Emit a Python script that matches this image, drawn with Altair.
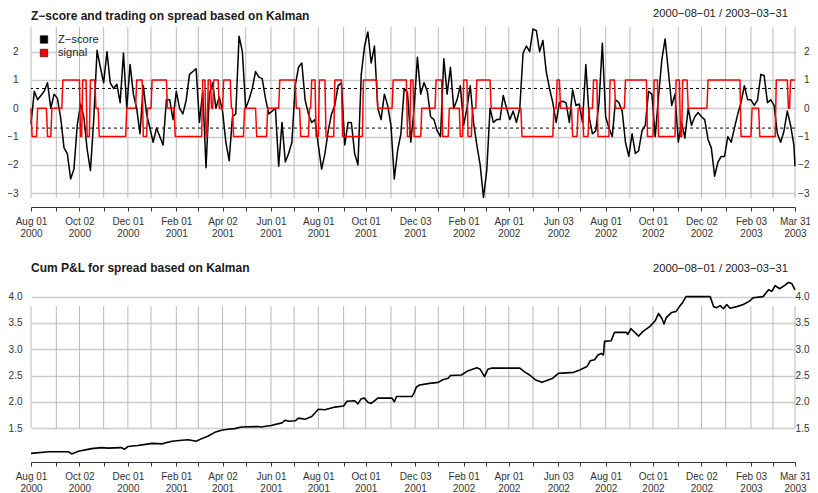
import altair as alt
import pandas as pd

FONT = "Liberation Sans"

# ---------------- calendar (trading-day index on x) ----------------
dates = pd.bdate_range("2000-08-01", "2003-03-31")
LAST = len(dates) - 1

tick_days = [i for i in range(len(dates)) if i == 0 or dates[i].month != dates[i - 1].month] + [LAST]
tick_labels = []
for i in tick_days:
    d = dates[i]
    if i == LAST or d.month % 2 == 0:
        tick_labels.append([d.strftime("%b %d"), d.strftime("%Y")])
    else:
        tick_labels.append("")

# ---------------- data ----------------
title_top = "Z\u2212score and trading on spread based on Kalman"
title_bot = "Cum P&L for spread based on Kalman"
range_text = "2000\u221208\u221201 / 2003\u221203\u221231"
series_names = ["Z\u2212score", "signal"]
series_colors = ["#000000", "#ff0000"]
thresholds = [0.7, -0.7]

# Z-score, one reading every 3 trading days, plus the last day
z_vals = [
    -0.55, 0.6, 0.3, 0.45, 0.6, 0.9, 0.0, 0.5, 0.35, -0.35,
    -1.4, -1.6, -2.5, -2.15, -0.6, 0.15, -0.3, -1.45, -2.2, -0.4,
    2.05, 1.45, 0.9, 2.0, 0.9, 0.7, 0.85, 0.2, 1.95, 0.0,
    1.55, 0.5, 0.0, -0.9, 0.8, -0.2, -0.7, -1.2, -0.7, -1.0,
    -1.3, 0.3, 0.3, -0.4, 0.6, 0.0, -0.2, 0.3, 1.2, 1.3,
    1.4, -0.5, 0.6, -2.1, 0.5, 0.9, 0.0, 0.4, -0.1, -1.2,
    -1.85, -0.3, -0.2, 2.55, 2.0, 0.0, 0.3, 0.7, 1.3, 1.1,
    1.05, 0.35, -0.2, -0.1, 0.0, -2.05, -0.5, -1.9, -1.6, -1.2,
    0.8, 1.45, 1.6, 0.3, -0.2, -0.5, -0.4, -1.3, -2.15, -1.6,
    -0.8, -0.2, 0.1, 0.8, 0.9, -1.3, -0.5, -0.5, -1.6, -2.0,
    1.2, 2.2, 2.7, 1.6, 2.2, 0.0, -0.4, 0.5, 0.1, -0.6,
    -2.5, -1.5, -0.9, 0.7, 0.55, -1.2, 0.0, 1.8, 0.5, 0.9,
    0.6, -0.3, -0.4, -0.8, -1.0, 1.75, 0.5, 1.45, 0.0, 0.3,
    0.8, -0.6, 0.0, 0.8, -0.5, -1.3, -2.0, -3.15, -2.2, 0.0,
    -0.5, -0.4, -0.4, 0.45, 0.0, -0.4, -0.1, -0.5, 0.0, 1.95,
    2.2, 2.0, 2.8, 2.75, 2.0, 2.4, 1.3, 0.7, 0.2, -0.5,
    0.2, 0.25, 0.2, -0.5, 0.65, 0.1, 0.15, -0.5, 1.55, -0.3,
    -0.9, -0.8, 0.2, 2.3, -0.3, -0.7, -1.0, 0.3, 0.2, -0.1,
    -1.2, -1.7, -0.9, -1.6, -1.5, -0.8, -0.6, 0.6, 0.5, -1.0,
    0.4, 1.7, 2.45, 1.3, 0.1, 0.5, -1.2, -0.5, -1.05, 0.0,
    -0.6, -0.3, -0.15, -0.3, -0.4, -1.1, -1.4, -2.4, -1.9, -1.7,
    -1.7, -1.0, -1.2, -0.7, -0.2, 0.2, 0.8, 0.3, 0.3, 0.1,
    0.3, 1.2, 1.15, 0.2, 0.3, 0.1, -0.9, -1.2, -0.8, -0.1,
    -0.6, -1.3, -2.05,
]
z_days = list(range(0, LAST, 3)) + [LAST]

# trading signal: (first trading day of the run, level)
sig_runs = [
    (0, 0), (1, -1), (6, 0), (15, -1), (19, 0), (29, 1), (45, -1), (47, 1), (51, -1), (54, 1),
    (59, 0), (62, -1), (87, 0), (96, 1), (102, -1), (106, 0), (110, 1), (124, 0), (131, -1), (156, 1),
    (159, -1), (161, 1), (164, 0), (166, 1), (171, 0), (175, 1), (182, 0), (184, -1), (194, 0), (205, -1),
    (215, 0), (226, 1), (241, 0), (245, -1), (253, 0), (255, 1), (259, -1), (262, 1), (268, -1), (276, 1),
    (283, -1), (302, 1), (315, 0), (329, 1), (342, -1), (345, 1), (348, -1), (355, 0), (368, 1), (374, -1),
    (380, 0), (390, -1), (393, 1), (397, -1), (401, 0), (405, 1), (418, 0), (446, -1), (475, 0), (478, 1),
    (481, 0), (492, -1), (497, 0), (502, -1), (507, 0), (511, 1), (515, -1), (526, 1), (531, 0), (540, 1),
    (560, -1), (566, 1), (570, -1), (586, 1), (590, -1), (592, 1), (597, 0), (615, 1), (645, -1), (655, 0),
    (662, -1), (677, 1), (688, 0), (690, 1),
]

# cumulative P&L readings (trading day, value)
pnl_days = [
    0, 16, 34, 37, 43, 55, 64, 70, 82, 85, 88, 97, 107, 110, 119, 122, 128, 137, 143, 150,
    155, 161, 167, 173, 179, 185, 191, 206, 209, 218, 228, 231, 234, 240, 243, 249, 255, 261, 267, 276,
    284, 287, 294, 297, 300, 303, 306, 309, 312, 315, 328, 330, 332, 346, 348, 350, 353, 362, 370, 374,
    379, 381, 391, 396, 405, 408, 412, 415, 418, 444, 449, 453, 458, 464, 468, 474, 479, 493, 499, 505,
    508, 512, 515, 518, 520, 521, 527, 530, 541, 542, 545, 552, 556, 562, 567, 570, 573, 575, 577, 582,
    586, 589, 592, 595, 617, 620, 623, 626, 629, 632, 635, 641, 647, 653, 656, 665, 670, 673, 676, 680,
    685, 688, 691, 694,
]
pnl_vals = [
    1.02, 1.05, 1.05, 1.01, 1.06, 1.11, 1.13, 1.12, 1.13, 1.10, 1.15, 1.17, 1.20, 1.21, 1.20, 1.22, 1.25, 1.27, 1.28, 1.25,
    1.30, 1.35, 1.42, 1.46, 1.48, 1.49, 1.52, 1.53, 1.52, 1.55, 1.60, 1.65, 1.63, 1.64, 1.69, 1.67, 1.72, 1.86, 1.85, 1.90,
    1.92, 2.01, 2.02, 1.96, 2.06, 2.07, 1.99, 1.97, 2.02, 2.07, 2.07, 2.00, 2.10, 2.10, 2.17, 2.28, 2.32, 2.35, 2.37, 2.42,
    2.45, 2.50, 2.51, 2.58, 2.65, 2.62, 2.48, 2.62, 2.64, 2.64, 2.56, 2.51, 2.42, 2.37, 2.40, 2.45, 2.54, 2.56, 2.61, 2.67,
    2.78, 2.80, 2.89, 2.92, 2.89, 3.15, 3.16, 3.32, 3.32, 3.28, 3.39, 3.25, 3.34, 3.43, 3.54, 3.68, 3.59, 3.48, 3.60, 3.70,
    3.72, 3.81, 3.89, 4.00, 4.00, 3.81, 3.79, 3.83, 3.77, 3.85, 3.78, 3.81, 3.85, 3.92, 3.98, 4.00, 4.13, 4.10, 4.21, 4.15,
    4.22, 4.27, 4.25, 4.13,
]

top_ticks = [-3, -2, -1, 0, 1, 2]
bot_ticks = [1.5, 2.0, 2.5, 3.0, 3.5, 4.0]

# ---------------- tables ----------------
sig_days, sig_vals = [], []
for k, (start, level) in enumerate(sig_runs):
    end = sig_runs[k + 1][0] - 1 if k + 1 < len(sig_runs) else LAST
    sig_days += [start, end]
    sig_vals += [level, level]

lines_df = pd.concat([
    pd.DataFrame({"day": z_days, "v": z_vals, "s": series_names[0], "o": 0}),
    pd.DataFrame({"day": sig_days, "v": sig_vals, "s": series_names[1], "o": 1}),
])
pnl_df = pd.DataFrame({"day": pnl_days, "v": pnl_vals})
ticks_df = pd.DataFrame({"day": tick_days})
thr_df = pd.DataFrame({"y": thresholds})
legend_df = pd.DataFrame({"s": series_names})

# ---------------- geometry of the two panels inside one plot area ----------------
W, H = 764, 429
TOP_DOM = [-12.29, 2.873]      # top panel occupies the upper 171 px
BOT_DOM = [0.97, 9.126]        # bottom panel occupies the lower 174 px


def xs():
    return alt.Scale(domain=[0, LAST], nice=False, zero=False)


lab_js = "[" + ",".join(("['%s','%s']" % tuple(l)) if l else "''" for l in tick_labels) + "]"
day_js = "[" + ",".join(str(d) for d in tick_days) + "]"
label_expr = f"{lab_js}[indexof({day_js}, datum.value)]"


def x_axis(offset):
    return alt.Axis(values=tick_days, labelExpr=label_expr, offset=offset, orient="bottom",
                    domainColor="#333333", domainWidth=1, tickColor="#333333", tickSize=4, tickWidth=1,
                    labelFont=FONT, labelFontSize=10, labelColor="#333333", labelPadding=5,
                    labelLineHeight=12, labelOverlap=False, labelFlush=False, labelBound=False,
                    grid=False, title=None)


def y_axis(values, orient, pad, align, grid, fmt):
    return alt.Axis(values=values, orient=orient, domain=False, ticks=False, tickSize=0,
                    labelPadding=pad, labelAlign=align, grid=grid, gridColor="#cccccc", gridWidth=1.3,
                    labelFont=FONT, labelFontSize=10, labelColor="#333333", format=fmt, title=None)


GRID_V = "#b9b9b9"

# top panel
top_vgrid = alt.Chart(ticks_df).mark_rule(color=GRID_V, strokeWidth=1).encode(
    x=alt.X("day:Q", scale=xs(), axis=None),
    y=alt.YDatum(2.873, scale=alt.Scale(domain=TOP_DOM, nice=False, zero=False),
                 axis=y_axis(top_ticks, "right", 14, "right", False, "d")),
    y2=alt.Y2Datum(-3.17),
)
top_thr = alt.Chart(thr_df).mark_rule(color="#000000", strokeWidth=1, strokeDash=[3, 3]).encode(
    y=alt.Y("y:Q", scale=alt.Scale(domain=TOP_DOM, nice=False, zero=False), axis=None),
)
top_lines = alt.Chart(lines_df).mark_line(strokeWidth=1.5, strokeJoin="round").encode(
    x=alt.X("day:Q", scale=xs(), axis=x_axis(-249)),
    y=alt.Y("v:Q", scale=alt.Scale(domain=TOP_DOM, nice=False, zero=False),
            axis=y_axis(top_ticks, "left", 13, "right", True, "d")),
    color=alt.Color("s:N", scale=alt.Scale(domain=series_names, range=series_colors), legend=None),
    order="o:Q",
    detail="s:N",
)

# legend (drawn as marks: key squares and their labels)
key_y = alt.Scale(domain=series_names, range=[12.5, 26], padding=0)
legend_keys = alt.Chart(legend_df).mark_square(size=56, stroke="#000000", strokeWidth=0.6, opacity=1).encode(
    x=alt.value(13),
    y=alt.Y("s:N", scale=key_y, axis=None),
    fill=alt.Fill("s:N", scale=alt.Scale(domain=series_names, range=series_colors), legend=None),
)
legend_text = alt.Chart(legend_df).mark_text(
    align="left", baseline="middle", font=FONT, fontSize=11.2, color="#222222",
).encode(
    x=alt.value(27),
    y=alt.Y("s:N", scale=key_y, axis=None),
    text="s:N",
)

# bottom panel
bot_vgrid = alt.Chart(ticks_df).mark_rule(color=GRID_V, strokeWidth=1).encode(
    x=alt.X("day:Q", scale=xs(), axis=None),
    y=alt.YDatum(3.82, scale=alt.Scale(domain=BOT_DOM, nice=False, zero=False),
                 axis=y_axis(bot_ticks, "right", 14, "right", False, ".1f")),
    y2=alt.Y2Datum(1.5),
)
bot_line = alt.Chart(pnl_df).mark_line(color="#000000", strokeWidth=1.6, strokeJoin="round").encode(
    x=alt.X("day:Q", scale=xs(), axis=x_axis(6)),
    y=alt.Y("v:Q", scale=alt.Scale(domain=BOT_DOM, nice=False, zero=False),
            axis=y_axis(bot_ticks, "left", 9, "right", True, ".1f")),
)


def label(text, x, y, align, bold):
    return alt.Chart(pd.DataFrame({"t": [text]})).mark_text(
        align=align, baseline="alphabetic", font=FONT, fontSize=12 if bold else 11.2,
        fontWeight="bold" if bold else "normal", color="#1a1a1a",
    ).encode(text="t:N", x=alt.value(x), y=alt.value(y))


chart = alt.layer(
    top_vgrid, top_thr, top_lines, legend_keys, legend_text,
    bot_vgrid, bot_line,
    label(title_top, 0, -7.5, "left", True),
    label(range_text, 757, -10.5, "right", False),
    label(title_bot, 0, 244.5, "left", True),
    label(range_text, 757, 244.5, "right", False),
).resolve_scale(x="independent", y="independent").properties(
    width=W, height=H,
    autosize=alt.AutoSizeParams(type="none"),
    padding={"left": 23, "top": 19, "right": 15, "bottom": 37},
    background="white",
).configure_view(stroke=None)

chart.save("out.html", embed_options={"renderer": "svg", "actions": False})
